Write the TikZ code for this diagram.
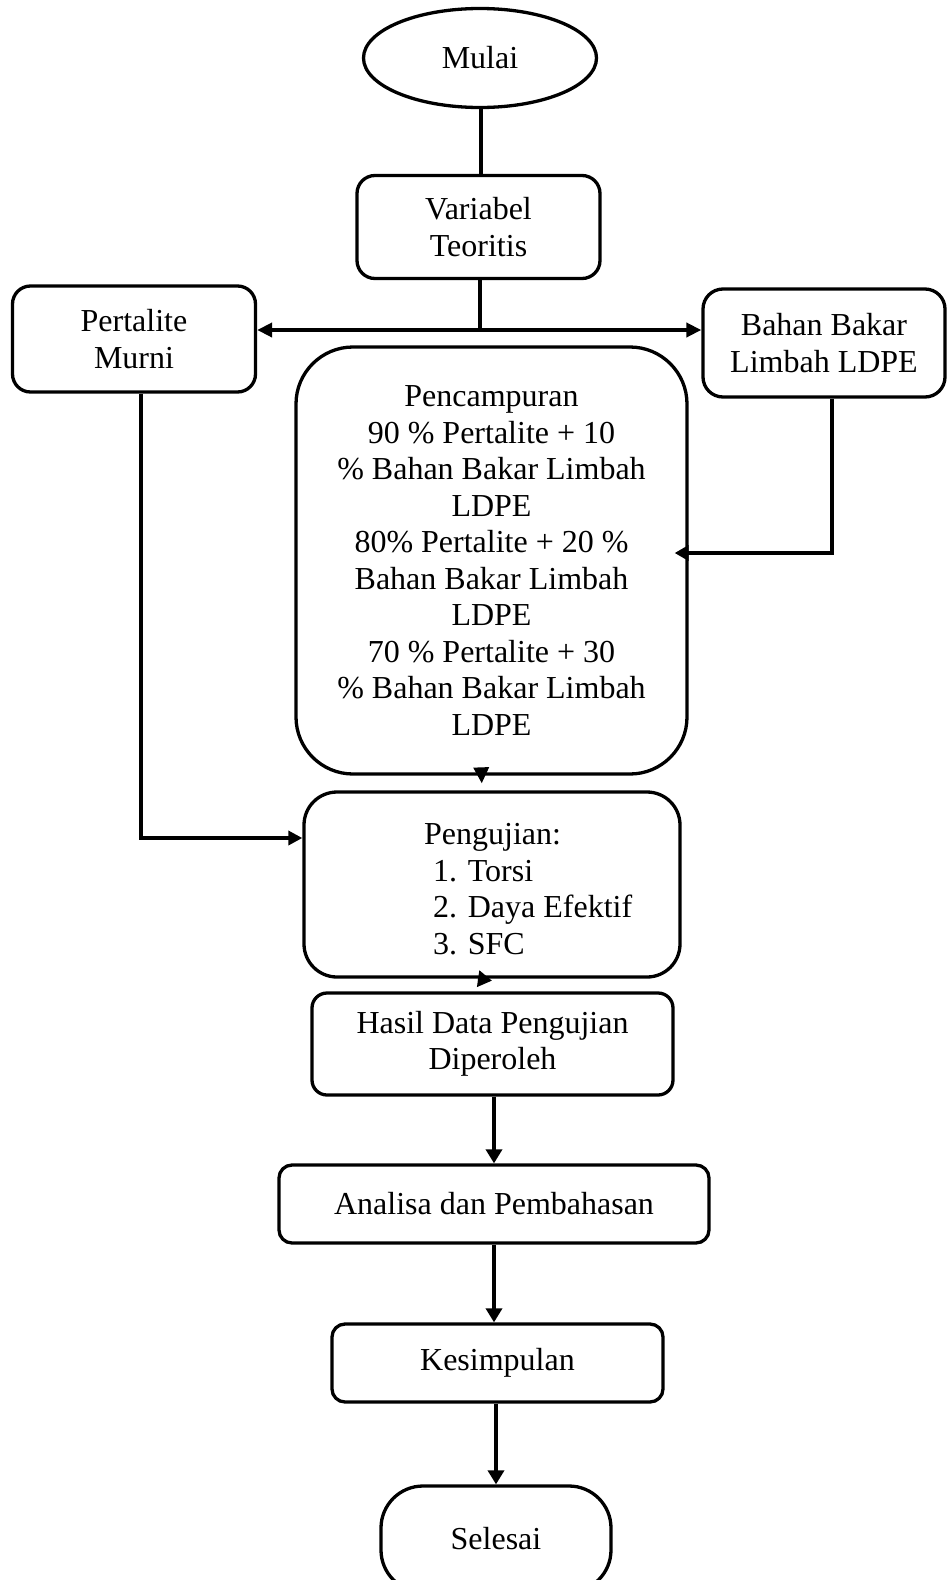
\documentclass[tikz,border=0pt]{standalone}
\usepackage{fontspec}
\setmainfont{Liberation Serif}
\usetikzlibrary{arrows.meta,shapes.geometric}
\begin{document}
\begin{tikzpicture}[x=1pt,y=-1pt,
  txt/.style={font=\fontsize{32}{36.5}\selectfont},
  box/.style={draw, line width=3.3pt, rounded corners=#1, inner sep=0pt, align=center, txt},
  box/.default=15pt,
  conn/.style={line width=3.4pt},
  arr/.style={conn, -{Triangle[length=14pt,width=16pt]}},
]
\useasboundingbox (0,0) rectangle (947,1580);
\node[draw, ellipse, line width=3.3pt, minimum width=233pt, minimum height=99pt, inner sep=0pt, txt] (mulai) at (480,58) {Mulai};
\node[box=18pt, minimum width=243pt, minimum height=103pt] (var) at (478.5,227) {Variabel\\Teoritis};
\node[box=18pt, minimum width=243pt, minimum height=106pt] (pert) at (134,339) {Pertalite\\Murni};
\node[box=20pt, minimum width=242pt, minimum height=108pt] (bahan) at (824,343) {Bahan Bakar\\Limbah LDPE};
\node[box=57pt, minimum width=391pt, minimum height=427pt] (camp) at (491.5,560.5) {Pencampuran\\90 \% Pertalite + 10\\\% Bahan Bakar Limbah\\LDPE\\80\% Pertalite + 20 \%\\Bahan Bakar Limbah\\LDPE\\70 \% Pertalite + 30\\\% Bahan Bakar Limbah\\LDPE};
\node[box=33pt, minimum width=376pt, minimum height=185pt] (peng) at (492,884.5) {};
\node[anchor=west, align=left, inner sep=0pt, txt] (pengtxt) at (433,889) {\hspace*{-9pt}Pengujian:\\1. Torsi\\2. Daya Efektif\\3. SFC};
\node[box=15pt, minimum width=361pt, minimum height=102pt] (hasil) at (492.5,1044) {Hasil Data Pengujian\\Diperoleh};
\node[box=13pt, minimum width=430pt, minimum height=78pt] (analisa) at (494,1204) {Analisa dan Pembahasan};
\node[box=13pt, minimum width=331pt, minimum height=78pt] (kes) at (497.5,1363) {Kesimpulan};
\node[box=42pt, minimum width=230pt, minimum height=106pt] (sel) at (496,1539) {Selesai};

\coordinate (split) at (480,330);
\draw[conn] ([xshift=1pt]mulai.south) -- ([xshift=2.5pt]var.north);
\draw[conn] ([xshift=1.5pt]var.south) -- (split);
\draw[line width=4.5pt, {Triangle[length=15pt,width=14pt]}-{Triangle[length=15pt,width=14pt]}] (split -| pert.east) -- (split -| bahan.west);
\draw[arr, -{Triangle[length=14pt,width=14pt]}] ([xshift=7pt]pert.south) |- ([yshift=46.5pt]peng.west);
\draw[conn, -{Triangle[length=14pt,width=15pt]}, shorten >=-14pt] ([xshift=8pt]bahan.south) |- ([yshift=7.5pt]camp.east);
\draw[arr, -{Triangle[length=16pt,width=15pt]}, shorten >=7pt] ([xshift=-10pt]camp.south) -- ([xshift=-10pt]peng.north);
\draw[arr, -{Triangle[length=14pt,width=16pt]}] ([xshift=-14pt]peng.south) -- ([yshift=-2pt]peng.south);
\draw[arr] (analisa.north |- hasil.south) -- (analisa.north);
\draw[arr] (analisa.south) -- (analisa.south |- kes.north);
\draw[arr] (sel.north |- kes.south) -- (sel.north);
\end{tikzpicture}
\end{document}
